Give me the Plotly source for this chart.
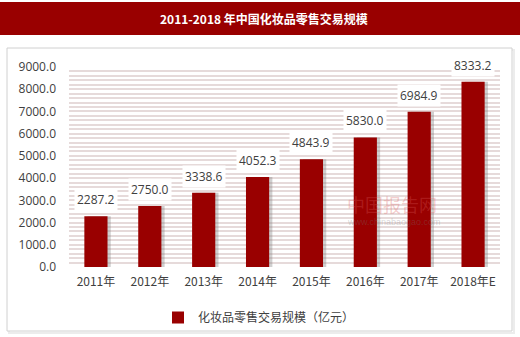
import plotly.graph_objects as go

categories = ["2011年", "2012年", "2013年", "2014年", "2015年", "2016年", "2017年", "2018年E"]
values = [2287.2, 2750.0, 3338.6, 4052.3, 4843.9, 5830.0, 6984.9, 8333.2]
value_labels = ["2287.2", "2750.0", "3338.6", "4052.3", "4843.9", "5830.0", "6984.9", "8333.2"]
y_ticks = [0, 1000, 2000, 3000, 4000, 5000, 6000, 7000, 8000, 9000]
y_tick_labels = ["0.0", "1000.0", "2000.0", "3000.0", "4000.0", "5000.0", "6000.0", "7000.0", "8000.0", "9000.0"]
series_name = "化妆品零售交易规模（亿元）"
title_text = "2011-2018 年中国化妆品零售交易规模"

W, H = 520, 337
ML, MR, MT, MB = 69, 20, 67, 70
PW, PH = W - ML - MR, H - MT - MB

def px_x(x):
    return (x - ML) / PW

def px_y(y):
    return (H - MB - y) / PH

CN = "Noto Sans CJK SC"
NUM = "Open Sans, Noto Sans CJK SC"
RED = "#990000"

fig = go.Figure()

# bar shadows
fig.add_trace(go.Bar(
    x=categories, y=values, width=0.43, offset=-0.215 + 0.06,
    marker=dict(color="rgba(120,120,120,0.35)", line=dict(width=0)),
    showlegend=False, hoverinfo="skip",
))
fig.add_trace(go.Bar(
    x=categories, y=values, width=0.43, offset=-0.215,
    name=series_name,
    marker=dict(color=RED, line=dict(width=0)),
))

for c, v, t in zip(categories, values, value_labels):
    fig.add_annotation(
        x=c, y=v, text=t, showarrow=False, yanchor="bottom", yshift=5,
        bgcolor="white", borderpad=2,
        font=dict(family=NUM, size=12, color="#404040"),
    )

shapes = [
    # chart frame shadow
    dict(type="rect", xref="paper", yref="paper",
         x0=px_x(9), x1=px_x(514), y0=px_y(50), y1=px_y(333),
         line=dict(color="#ececec", width=2), fillcolor="rgba(0,0,0,0)", layer="below"),
    # chart frame
    dict(type="rect", xref="paper", yref="paper",
         x0=px_x(7), x1=px_x(512), y0=px_y(48), y1=px_y(331),
         line=dict(color="#d0d0d0", width=1), fillcolor="white", layer="below"),
    # title bar
    dict(type="rect", xref="paper", yref="paper",
         x0=px_x(0), x1=px_x(520), y0=px_y(2), y1=px_y(35),
         line=dict(width=0), fillcolor=RED, layer="below"),
]

fig.add_annotation(
    xref="paper", yref="paper", x=px_x(264), y=px_y(18.5), text="<b>" + title_text + "</b>",
    showarrow=False, xanchor="center", yanchor="middle",
    font=dict(family=CN, size=12, color="white"),
)

# watermark
fig.add_annotation(
    xref="paper", yref="paper", x=px_x(345), y=px_y(204), text="中国报告网",
    showarrow=False, xanchor="left", yanchor="middle",
    font=dict(family=CN, size=18, color="rgba(220,90,90,0.3)"),
)
fig.add_annotation(
    xref="paper", yref="paper", x=px_x(345), y=px_y(222), text="www.chinabaogao.com",
    showarrow=False, xanchor="left", yanchor="middle",
    font=dict(family="Liberation Sans", size=9, color="rgba(120,120,120,0.3)"),
)

fig.update_layout(
    width=W, height=H,
    margin=dict(l=ML, r=MR, t=MT, b=MB, autoexpand=False),
    paper_bgcolor="white", plot_bgcolor="white",
    barmode="overlay",
    shapes=shapes,
    showlegend=True,
    legend=dict(orientation="h", x=px_x(259), xanchor="center", y=px_y(303), yanchor="top",
                font=dict(family=CN, size=12, color="#404040"),
                itemwidth=30, bgcolor="rgba(0,0,0,0)"),
    xaxis=dict(showgrid=False, showline=False, ticks="", zeroline=False,
               tickfont=dict(family=CN, size=12, color="#404040"),
               ticklabelstandoff=6,
               range=[-0.5, 7.5]),
    yaxis=dict(range=[0, 9000], tickvals=y_ticks, ticktext=y_tick_labels,
               showgrid=True, gridcolor="#e6dada", gridwidth=2,
               minor=dict(dtick=200, showgrid=True, gridcolor="#e6dada", gridwidth=2),
               zeroline=False, showline=False, ticks="",
               ticklabelstandoff=12,
               tickfont=dict(family=NUM, size=12, color="#404040")),
)

fig.write_html("out.html")
